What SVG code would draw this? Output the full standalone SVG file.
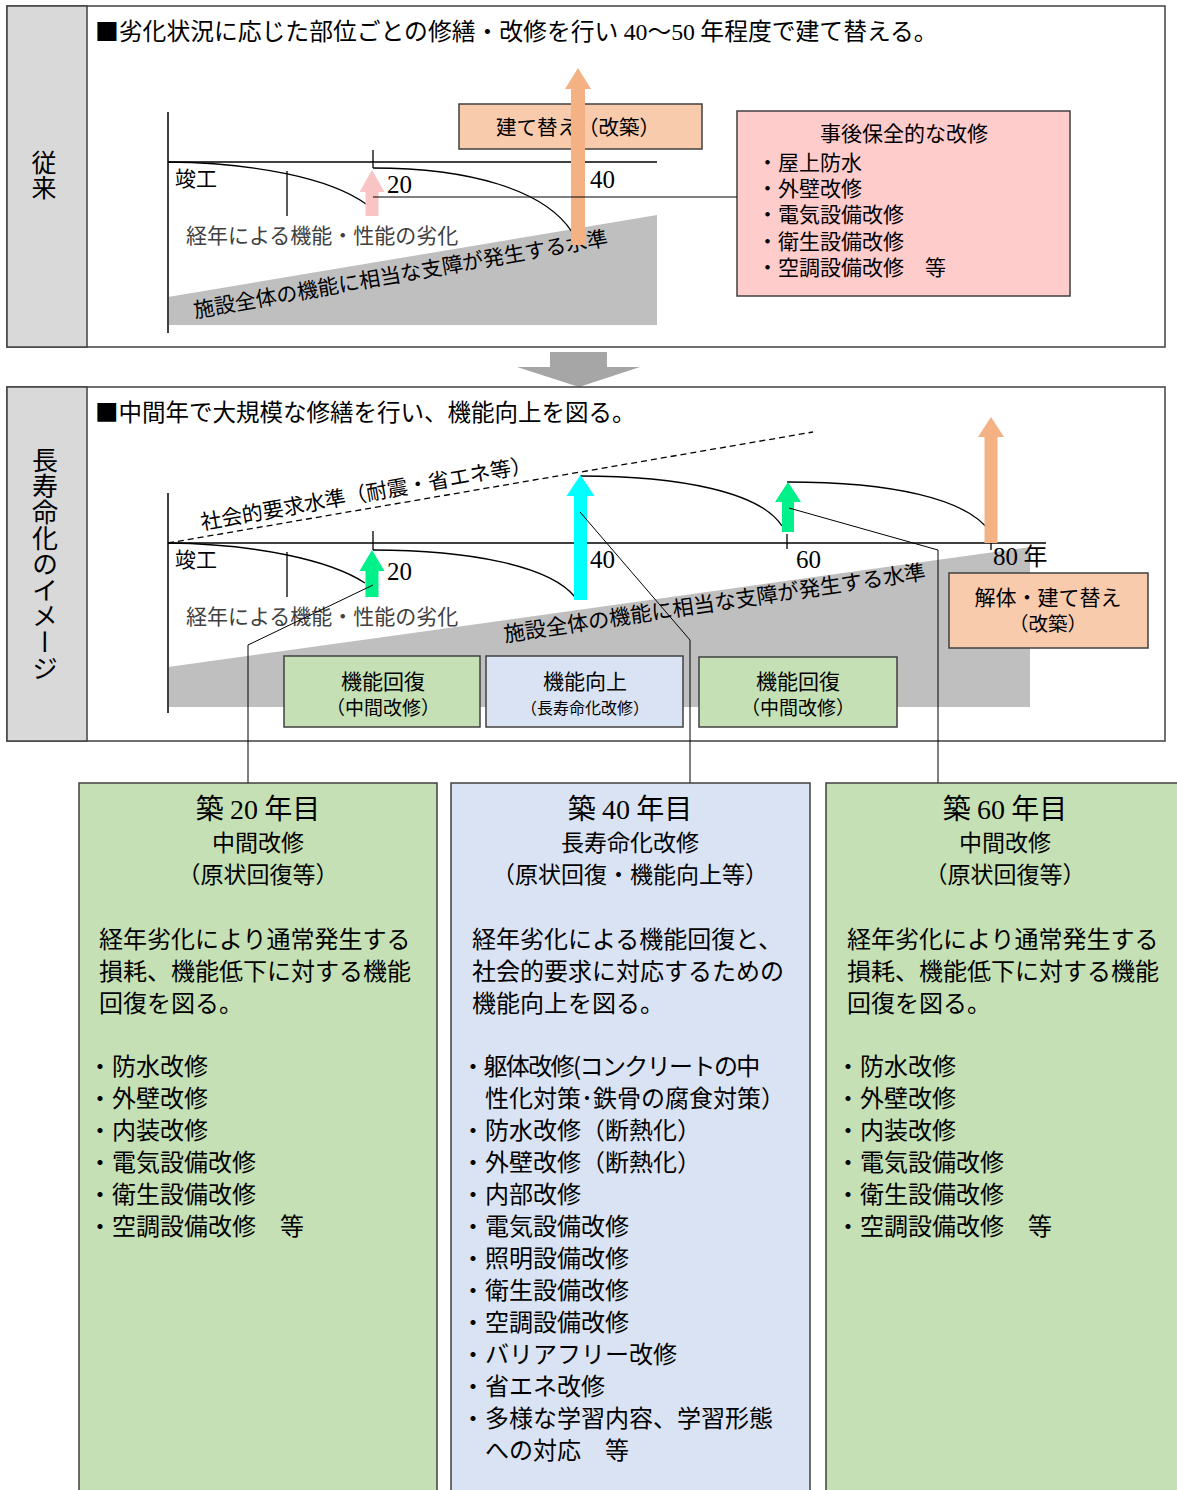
<svg xmlns="http://www.w3.org/2000/svg" width="1177" height="1490" viewBox="0 0 1177 1490">
<style>
.jp{font-family:"Noto Sans CJK JP","Noto Sans",sans-serif;fill:#000}
.num{font-family:"Liberation Serif","DejaVu Serif",serif}
.dim{fill:#404040}
.frame{fill:#fff;stroke:#404040;stroke-width:1.5}
.label{fill:#d9d9d9;stroke:#404040;stroke-width:1.5}
.axis{stroke:#404040;stroke-width:2;fill:none}
.curve{stroke:#000;stroke-width:1.3;fill:none}
.lead{stroke:#000;stroke-width:1;fill:none}
.box{stroke:#404040;stroke-width:1.5}
.gray{fill:#bfbfbf}
.vt{writing-mode:vertical-rl}
.c{text-anchor:middle}
</style>
<rect x="0" y="0" width="1177" height="1490" fill="#fff"/>

<!-- TOP PANEL -->
<g id="panel-conventional">
<rect class="frame" x="7" y="6" width="1158" height="341"/>
<rect class="label" x="7" y="6" width="80" height="341"/>
<text class="jp vt" x="44" y="150" font-size="25">従来</text>
<text class="jp" x="95" y="40" font-size="23.8">■劣化状況に応じた部位ごとの修繕・改修を行い <tspan class="num">40</tspan>～<tspan class="num">50</tspan> 年程度で建て替える。</text>
</g>

<g id="chart-conventional">
<polygon class="gray" points="168,297 657,215 657,325 168,325"/>
<line class="axis" x1="168" y1="112" x2="168" y2="333"/>
<line class="axis" x1="168" y1="162" x2="657" y2="162"/>
<path class="curve" d="M373,150 V168"/>
<path class="curve" d="M168,162 C255,163 330,178 366,204"/>
<path class="curve" d="M373,168 C470,168 545,190 572,232"/>
<line class="curve" x1="287" y1="171" x2="287" y2="216"/>
<text class="jp" x="175" y="186" font-size="21">竣工</text>
<text class="num" x="387" y="193" font-size="25">20</text>
<text class="num" x="590" y="188" font-size="25">40</text>
<text class="jp dim" x="186" y="243" font-size="21">経年による機能・性能の劣化</text>
<text class="jp" x="195" y="318" font-size="21" transform="rotate(-10 195 318)">施設全体の機能に相当な支障が発生する水準</text>
</g>

<g id="node-rebuild-top">
<rect class="box" x="459" y="104" width="243" height="45" fill="#f8cbad"/>
<text class="jp c" x="578" y="135" font-size="20.5">建て替え（改築）</text>
</g>

<g id="arrow-pink-top">
<polygon fill="#f9c4c4" points="372,170 384.5,192 378.5,192 378.5,216 365.5,216 365.5,192 359.5,192"/>
</g>
<g id="arrow-orange-top">
<polygon fill="#f4b183" points="578,68 591,89 585,89 585,245 571,245 571,89 565,89"/>
</g>

<g id="node-reactive">
<rect class="box" x="737" y="111" width="333" height="185" fill="#ffcccc"/>
<text class="jp c" x="904" y="141" font-size="21">事後保全的な改修</text>
<text class="jp" x="757" y="170" font-size="21">・屋上防水</text>
<text class="jp" x="757" y="196" font-size="21">・外壁改修</text>
<text class="jp" x="757" y="222" font-size="21">・電気設備改修</text>
<text class="jp" x="757" y="249" font-size="21">・衛生設備改修</text>
<text class="jp" x="757" y="275" font-size="21">・空調設備改修　等</text>
</g>

<g id="transition-arrow">
<polygon fill="#a6a6a6" points="550,352 607,352 607,367 640,367 579,387 517,367 550,367"/>
</g>

<!-- MIDDLE PANEL -->
<g id="panel-longlife">
<rect class="frame" x="7" y="387" width="1158" height="354"/>
<rect class="label" x="7" y="387" width="80" height="354"/>
<text class="jp vt" x="45" y="447" font-size="26">長寿命化のイメージ</text>
<text class="jp" x="95" y="421" font-size="23.5">■中間年で大規模な修繕を行い、機能向上を図る。</text>
</g>

<g id="chart-longlife">
<polygon class="gray" points="168,667 1030,547 1030,707 168,707"/>
<line class="axis" x1="168" y1="493" x2="168" y2="713"/>
<line class="axis" x1="168" y1="543" x2="1046" y2="543"/>
<line x1="168" y1="543" x2="813" y2="432" stroke="#000" stroke-width="1.3" stroke-dasharray="6,4"/>
<path class="curve" d="M373,531 V550"/>
<path class="curve" d="M787,534 V549"/>
<path class="curve" d="M168,543 C255,544 330,560 365,583"/>
<path class="curve" d="M373,550 C470,550 550,566 575,597"/>
<path class="curve" d="M580,476 C680,476 760,492 782,526"/>
<path class="curve" d="M787,482 C890,482 968,498 991,533 V550"/>
<line class="curve" x1="287" y1="552" x2="287" y2="597"/>
<text class="jp" x="202" y="530" font-size="21" transform="rotate(-10 202 530)">社会的要求水準（耐震・省エネ等）</text>
<text class="jp" x="175" y="567" font-size="21">竣工</text>
<text class="num" x="387" y="580" font-size="25">20</text>
<text class="num" x="590" y="568" font-size="25">40</text>
<text class="num" x="796" y="568" font-size="25">60</text>
<text class="jp" x="993" y="565" font-size="24"><tspan class="num" font-size="25">80</tspan> 年</text>
<text class="jp dim" x="186" y="624" font-size="21">経年による機能・性能の劣化</text>
<text class="jp" x="505" y="642" font-size="21.3" transform="rotate(-8.5 505 642)">施設全体の機能に相当な支障が発生する水準</text>
</g>

<g id="arrow-green-20">
<polygon fill="#00f08a" points="372,550 384.5,571 378.5,571 378.5,597 365.5,597 365.5,571 359.5,571"/>
</g>
<g id="arrow-cyan-40">
<polygon fill="#00ffff" points="580.5,475 594.5,496 587,496 587,600 574,600 574,496 566.5,496"/>
</g>
<g id="arrow-green-60">
<polygon fill="#00f08a" points="788,482 801,502 794,502 794,532 782,532 782,502 775,502"/>
</g>
<g id="arrow-orange-80">
<polygon fill="#f4b183" points="991,417 1004,437 997.5,437 997.5,543 984.5,543 984.5,437 978,437"/>
</g>

<g id="node-recover-1">
<rect class="box" x="284" y="656" width="196" height="71" fill="#c5e0b4"/>
<text class="jp c" x="383" y="689" font-size="21">機能回復</text>
<text class="jp c" x="383" y="715" font-size="19">（中間改修）</text>
</g>
<g id="node-improve">
<rect class="box" x="486" y="656" width="197" height="71" fill="#dae3f3"/>
<text class="jp c" x="585" y="689" font-size="21">機能向上</text>
<text class="jp c" x="585" y="714" font-size="16">（長寿命化改修）</text>
</g>
<g id="node-recover-2">
<rect class="box" x="699" y="657" width="198" height="70" fill="#c5e0b4"/>
<text class="jp c" x="798" y="689" font-size="21">機能回復</text>
<text class="jp c" x="798" y="715" font-size="19">（中間改修）</text>
</g>
<g id="node-rebuild-80">
<rect class="box" x="949" y="573" width="199" height="75" fill="#f8cbad"/>
<text class="jp c" x="1048" y="605" font-size="21">解体・建て替え</text>
<text class="jp c" x="1048" y="631" font-size="19.5">（改築）</text>
</g>

<!-- CONNECTORS -->
<g id="connectors">
<line class="lead" x1="373" y1="197" x2="737" y2="197"/>
<polyline class="lead" points="373,585 248,645 248,783"/>
<polyline class="lead" points="580,512 690,640 690,783"/>
<polyline class="lead" points="789,508 938,550 938,783"/>
</g>

<!-- BOTTOM BOXES -->
<g id="node-year20">
<rect class="box" x="79" y="783" width="358" height="720" fill="#c5e0b4"/>
<text class="jp c" x="258" y="819" font-size="28">築 <tspan class="num">20</tspan> 年目</text>
<text class="jp c" x="258" y="851" font-size="23">中間改修</text>
<text class="jp c" x="258" y="883" font-size="23">（原状回復等）</text>
<text class="jp" x="99" y="948" font-size="24">経年劣化により通常発生する</text>
<text class="jp" x="99" y="980" font-size="24">損耗、機能低下に対する機能</text>
<text class="jp" x="99" y="1012" font-size="24">回復を図る。</text>
<text class="jp" x="88" y="1075" font-size="24">・防水改修</text>
<text class="jp" x="88" y="1107" font-size="24">・外壁改修</text>
<text class="jp" x="88" y="1139" font-size="24">・内装改修</text>
<text class="jp" x="88" y="1171" font-size="24">・電気設備改修</text>
<text class="jp" x="88" y="1203" font-size="24">・衛生設備改修</text>
<text class="jp" x="88" y="1235" font-size="24">・空調設備改修　等</text>
</g>

<g id="node-year40">
<rect class="box" x="451" y="783" width="359" height="720" fill="#dae3f3"/>
<text class="jp c" x="630" y="819" font-size="28">築 <tspan class="num">40</tspan> 年目</text>
<text class="jp c" x="630" y="851" font-size="23">長寿命化改修</text>
<text class="jp c" x="630" y="883" font-size="23">（原状回復・機能向上等）</text>
<text class="jp" x="472" y="948" font-size="24">経年劣化による機能回復と、</text>
<text class="jp" x="472" y="980" font-size="24">社会的要求に対応するための</text>
<text class="jp" x="472" y="1012" font-size="24">機能向上を図る。</text>
<text class="jp" x="461" y="1075" font-size="24" letter-spacing="-1.6">・躯体改修(コンクリートの中</text>
<text class="jp" x="485" y="1107" font-size="24">性化対策･鉄骨の腐食対策）</text>
<text class="jp" x="461" y="1139" font-size="24">・防水改修（断熱化）</text>
<text class="jp" x="461" y="1171" font-size="24">・外壁改修（断熱化）</text>
<text class="jp" x="461" y="1203" font-size="24">・内部改修</text>
<text class="jp" x="461" y="1235" font-size="24">・電気設備改修</text>
<text class="jp" x="461" y="1267" font-size="24">・照明設備改修</text>
<text class="jp" x="461" y="1299" font-size="24">・衛生設備改修</text>
<text class="jp" x="461" y="1331" font-size="24">・空調設備改修</text>
<text class="jp" x="461" y="1363" font-size="24">・バリアフリー改修</text>
<text class="jp" x="461" y="1395" font-size="24">・省エネ改修</text>
<text class="jp" x="461" y="1427" font-size="24">・多様な学習内容、学習形態</text>
<text class="jp" x="485" y="1459" font-size="24">への対応　等</text>
</g>

<g id="node-year60">
<rect class="box" x="826" y="783" width="360" height="720" fill="#c5e0b4"/>
<text class="jp c" x="1005" y="819" font-size="28">築 <tspan class="num">60</tspan> 年目</text>
<text class="jp c" x="1005" y="851" font-size="23">中間改修</text>
<text class="jp c" x="1005" y="883" font-size="23">（原状回復等）</text>
<text class="jp" x="847" y="948" font-size="24">経年劣化により通常発生する</text>
<text class="jp" x="847" y="980" font-size="24">損耗、機能低下に対する機能</text>
<text class="jp" x="847" y="1012" font-size="24">回復を図る。</text>
<text class="jp" x="836" y="1075" font-size="24">・防水改修</text>
<text class="jp" x="836" y="1107" font-size="24">・外壁改修</text>
<text class="jp" x="836" y="1139" font-size="24">・内装改修</text>
<text class="jp" x="836" y="1171" font-size="24">・電気設備改修</text>
<text class="jp" x="836" y="1203" font-size="24">・衛生設備改修</text>
<text class="jp" x="836" y="1235" font-size="24">・空調設備改修　等</text>
</g>
</svg>
